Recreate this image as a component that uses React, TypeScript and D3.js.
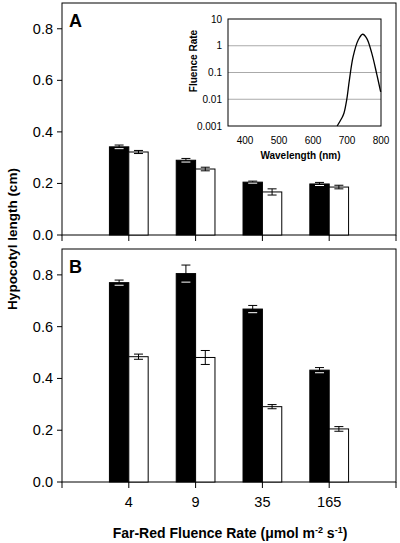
import React from "react";
import * as d3 from "d3";

const categories = ["4", "9", "35", "165"];
const aBlack = [0.342, 0.29, 0.205, 0.198];
const aBlackErr = [0.007, 0.007, 0.004, 0.006];
const aWhite = [0.322, 0.256, 0.167, 0.186];
const aWhiteErr = [0.006, 0.007, 0.012, 0.007];
const bBlack = [0.77, 0.805, 0.668, 0.432];
const bBlackErr = [0.01, 0.033, 0.014, 0.01];
const bWhite = [0.484, 0.481, 0.291, 0.205];
const bWhiteErr = [0.01, 0.027, 0.008, 0.009];
const yTicks = [0, 0.2, 0.4, 0.6, 0.8];

const specWl = [671, 684, 691, 699, 707, 718, 733, 746, 758, 773, 787, 799];
const specVal = [0.001, 0.0019, 0.003, 0.0093, 0.052, 0.39, 1.64, 2.69, 1.9, 0.52, 0.093, 0.019];
const insetYTicks = [10, 1, 0.1, 0.01, 0.001];
const insetYLabels = ["10", "1", "0.1", "0.01", "0.001"];
const insetXTicks = [400, 500, 600, 700, 800];

const FONT = "Liberation Sans, Arial, sans-serif";

const L = 62, R = 396;
const x = d3.scaleLinear().domain([0, 5]).range([L, R]);
const barW = 0.29;

function Panel({ top, bottom, label, black, blackErr, white, whiteErr, showXLabels }: any) {
  const y = d3.scaleLinear().domain([0, 0.9]).range([bottom, top]);
  const cap = 4.5;
  const bars: any[] = [];
  categories.forEach((c, i) => {
    const cx = x(i + 1);
    const w = x(barW) - x(0);
    [
      { v: black[i], e: blackErr[i], x0: cx - w, fill: "#000" },
      { v: white[i], e: whiteErr[i], x0: cx, fill: "#fff" },
    ].forEach((b, j) => {
      const ex = b.x0 + w / 2;
      bars.push(
        <g key={c + j}>
          <rect x={b.x0} y={y(b.v)} width={w} height={y(0) - y(b.v)} fill={b.fill} stroke="#000" strokeWidth={1} />
          <line x1={ex} x2={ex} y1={y(b.v + b.e)} y2={y(b.v - b.e)} stroke={b.fill === "#000" ? "#000" : "#000"} strokeWidth={1} />
          <line x1={ex - cap} x2={ex + cap} y1={y(b.v + b.e)} y2={y(b.v + b.e)} stroke="#000" strokeWidth={1} />
          <line x1={ex - cap} x2={ex + cap} y1={y(b.v - b.e)} y2={y(b.v - b.e)} stroke={b.fill === "#000" ? "#fff" : "#000"} strokeWidth={1} />
        </g>
      );
    });
  });
  return (
    <g>
      <rect x={L} y={top} width={R - L} height={bottom - top} fill="none" stroke="#000" strokeWidth={1} />
      {yTicks.map((t) => (
        <g key={t}>
          <line x1={L - 5} x2={L} y1={y(t)} y2={y(t)} stroke="#000" />
          <text x={L - 9} y={y(t) + 5} textAnchor="end" fontSize={14.5} fontFamily={FONT}>{t.toFixed(1)}</text>
        </g>
      ))}
      {[0, 1, 2, 3, 4, 5].map((t) => (
        <line key={t} x1={x(t)} x2={x(t)} y1={bottom} y2={bottom + 6} stroke="#000" />
      ))}
      {showXLabels && categories.map((c, i) => (
        <text key={c} x={x(i + 1)} y={bottom + 25} textAnchor="middle" fontSize={14.5} fontFamily={FONT}>{c}</text>
      ))}
      {bars}
      <text x={L + 7} y={top + 24} fontSize={18} fontWeight="bold" fontFamily={FONT}>{label}</text>
    </g>
  );
}

function Inset() {
  const xl = 228, xr = 381, yt = 19, yb = 126;
  const ix = d3.scaleLinear().domain([350, 800]).range([xl, xr]);
  const iy = d3.scaleLog().domain([0.001, 10]).range([yb, yt]);
  const line = d3.line<number>().x((_, i) => ix(specWl[i])).y((d) => iy(d)).curve(d3.curveCatmullRom);
  return (
    <g>
      {[1, 0.1, 0.01].map((t) => (
        <line key={t} x1={xl} x2={xr} y1={iy(t)} y2={iy(t)} stroke="#aaa" strokeWidth={1} />
      ))}
      <rect x={xl} y={yt} width={xr - xl} height={yb - yt} fill="none" stroke="#000" strokeWidth={1} />
      {insetYTicks.map((t, i) => (
        <text key={t} x={xl - 6} y={iy(t) + 3.5} textAnchor="end" fontSize={10} fontFamily={FONT}>{insetYLabels[i]}</text>
      ))}
      {insetXTicks.map((t) => (
        <text key={t} x={ix(t)} y={yb + 18} textAnchor="middle" fontSize={10} fontFamily={FONT}>{t}</text>
      ))}
      <text x={(xl + xr) / 2 - 4} y={yb + 33} textAnchor="middle" fontSize={10} fontWeight="bold" fontFamily={FONT}>Wavelength (nm)</text>
      <text transform={`translate(197,61) rotate(-90)`} textAnchor="middle" fontSize={10} fontWeight="bold" fontFamily={FONT}>Fluence Rate</text>
      <path d={line(specVal) || ""} fill="none" stroke="#000" strokeWidth={1.3} />
    </g>
  );
}

export default function App() {
  return (
    <svg width={400} height={543} style={{ position: "absolute", left: 0, top: 0, background: "#fff" }}>
      <rect x={0} y={0} width={400} height={543} fill="#fff" />
      <Panel top={3} bottom={235} label="A" black={aBlack} blackErr={aBlackErr} white={aWhite} whiteErr={aWhiteErr} showXLabels={false} />
      <Inset />
      <Panel top={249} bottom={482} label="B" black={bBlack} blackErr={bBlackErr} white={bWhite} whiteErr={bWhiteErr} showXLabels={true} />
      <text transform="translate(17,239) rotate(-90)" textAnchor="middle" fontSize={13.5} fontWeight="bold" fontFamily={FONT}>Hypocotyl length (cm)</text>
      <text x={230} y={538} textAnchor="middle" fontSize={14} fontWeight="bold" fontFamily={FONT}>
        Far-Red Fluence Rate (μmol m<tspan dy={-5} fontSize={9}>-2</tspan><tspan dy={5}> s</tspan><tspan dy={-5} fontSize={9}>-1</tspan><tspan dy={5}>)</tspan>
      </text>
    </svg>
  );
}
